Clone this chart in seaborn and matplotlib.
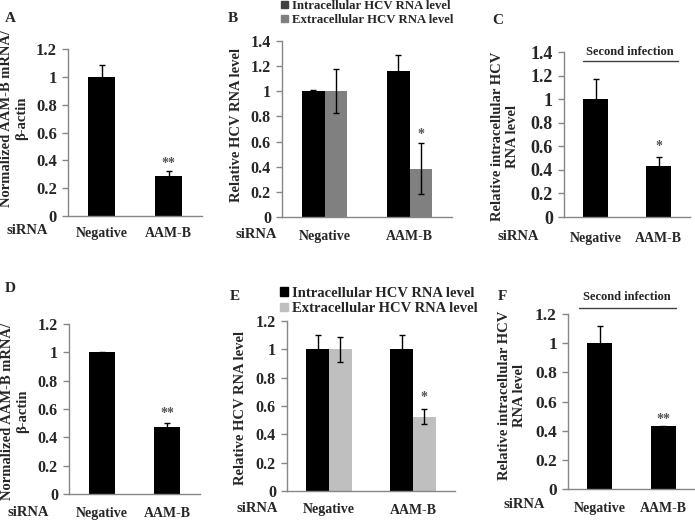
import pandas as pd
import matplotlib
matplotlib.use('Agg')
import matplotlib.pyplot as plt
import seaborn as sns
from matplotlib.patches import Patch

sns.set_theme(style='white')
plt.rcParams['font.family'] = ['Liberation Serif', 'DejaVu Serif']
plt.rcParams['font.weight'] = 'bold'

# data
cats = ['Negative', 'AAM-B']
levels = ['Intracellular HCV RNA level', 'Extracellular HCV RNA level']

a_vals = [1.0, 0.29]
a_err = [0.085, 0.03]

b_intra = [1.0, 1.165]
b_intra_err = [0.01, 0.12]
b_extra = [1.0, 0.385]
b_extra_err = [0.175, 0.2]

c_vals = [1.0, 0.43]
c_err = [0.175, 0.08]

d_vals = [1.0, 0.475]
d_err = [0.005, 0.025]

e_intra = [1.0, 1.0]
e_intra_err = [0.1, 0.1]
e_extra = [1.0, 0.525]
e_extra_err = [0.09, 0.055]

f_vals = [1.0, 0.43]
f_err = [0.12, 0.005]

W, H = 695, 520
AXC = '#868686'
STARC = '#555555'

fig = plt.figure(figsize=(W / 100, H / 100), dpi=100)


def px(x, y):
    return x / W, 1 - y / H


def make_ax(x0, x1, ytop, ybot):
    return fig.add_axes([x0 / W, 1 - ybot / H, (x1 - x0) / W, (ybot - ytop) / H])


def style_ax(ax, top, tick_fs, pad, cat_fs=10):
    ax.set_xlim(-0.5, 1.5)
    ax.set_ylim(0, top)
    ticks = [round(i * 0.2, 1) for i in range(int(round(top / 0.2)) + 1)]
    ax.set_yticks(ticks)
    ax.set_yticklabels(['%g' % t for t in ticks], fontsize=tick_fs, fontweight='bold')
    ax.set_xticks([0, 1])
    ax.set_xticklabels(cats, fontsize=cat_fs, fontweight='bold')
    for s in ['top', 'right']:
        ax.spines[s].set_visible(False)
    for s in ['left', 'bottom']:
        ax.spines[s].set_color(AXC)
        ax.spines[s].set_linewidth(1)
    ax.tick_params(axis='y', which='both', left=True, length=4, width=1, color=AXC, direction='out', pad=4)
    ax.tick_params(axis='x', bottom=False, pad=pad)
    ax.set_xlabel('')
    ax.set_ylabel('')


def add_err(ax, errs):
    for p, e in zip(ax.patches, errs):
        x = p.get_x() + p.get_width() / 2
        ax.errorbar(x, p.get_height(), yerr=e, color='black', lw=1, capsize=2.5, capthick=1)


def single(ax, vals, errs):
    sns.barplot(x=cats, y=vals, color='black', width=0.4, saturation=1, errorbar=None, linewidth=0, ax=ax)
    add_err(ax, errs)


def grouped(ax, intra, extra, errs, colors):
    df = pd.DataFrame({'siRNA': cats * 2, 'level': [levels[0]] * 2 + [levels[1]] * 2, 'value': intra + extra})
    sns.barplot(data=df, x='siRNA', y='value', hue='level', palette=colors, width=0.54,
                saturation=1, errorbar=None, linewidth=0, legend=False, ax=ax)
    add_err(ax, errs)


def ftext(x, y, s, **kw):
    fig.text(*px(x, y), s, fontweight='bold', **kw)


def legend(ax, colors, x, y, size):
    ax.legend(handles=[Patch(color=c) for c in colors], labels=levels,
              loc='upper left', bbox_to_anchor=px(x, y), bbox_transform=fig.transFigure,
              frameon=False, handlelength=0.55, handleheight=0.55, handletextpad=0.3,
              borderpad=0, borderaxespad=0, labelspacing=0.15, prop={'weight': 'bold', 'size': size})


# ---- A
axA = make_ax(68, 202, 49, 216)
single(axA, a_vals, a_err)
style_ax(axA, 1.2, 12, 2)
axA.text(1, a_vals[1] + a_err[1] + 0.06, '**', ha='center', va='center', fontsize=10, color=STARC)
ftext(14, 118, 'Normalized AAM-B mRNA/\nβ-actin', rotation=90, ha='center', va='center', fontsize=10.5, multialignment='center')
ftext(27, 231, 'siRNA', ha='center', va='center', fontsize=10.5)
ftext(5, 18, 'A', ha='left', va='center', fontsize=11)

# ---- B
axB = make_ax(282, 452, 41, 217)
grouped(axB, b_intra, b_extra, b_intra_err + b_extra_err, ['black', '#808080'])
style_ax(axB, 1.4, 11.5, 3.6)
axB.text(1.135, b_extra[1] + b_extra_err[1] + 0.07, '*', ha='center', va='center', fontsize=10, color=STARC)
ftext(237, 125, 'Relative HCV RNA level', rotation=90, ha='center', va='center', fontsize=10.5)
ftext(256, 235, 'siRNA', ha='center', va='center', fontsize=10.5)
ftext(228, 18, 'B', ha='left', va='center', fontsize=11)
legend(axB, ['#404040', '#808080'], 281, 0, 9.2)

# ---- C
axC = make_ax(564, 690, 52, 217)
single(axC, c_vals, c_err)
style_ax(axC, 1.4, 13, 5)
axC.text(1, c_vals[1] + c_err[1] + 0.09, '*', ha='center', va='center', fontsize=10, color=STARC)
ftext(505, 136, 'Relative intracellular HCV\nRNA level', rotation=90, ha='center', va='center', fontsize=10.5, multialignment='center')
ftext(518, 237, 'siRNA', ha='center', va='center', fontsize=10.5)
ftext(492, 20, 'C', ha='left', va='center', fontsize=11)
ftext(630, 52, 'Second infection', ha='center', va='center', fontsize=9)
fig.add_artist(plt.Line2D([583 / W, 678 / W], [1 - 61 / H, 1 - 61 / H], color='#404040', lw=1))

# ---- D
axD = make_ax(69, 200, 324, 494)
single(axD, d_vals, d_err)
style_ax(axD, 1.2, 11.5, 3.6)
axD.text(1, d_vals[1] + d_err[1] + 0.07, '**', ha='center', va='center', fontsize=10, color=STARC)
ftext(15, 411, 'Normalized AAM-B mRNA/\nβ-actin', rotation=90, ha='center', va='center', fontsize=10.5, multialignment='center')
ftext(28, 512, 'siRNA', ha='center', va='center', fontsize=10.5)
ftext(5, 288, 'D', ha='left', va='center', fontsize=11)

# ---- E
axE = make_ax(287, 455, 321, 491)
grouped(axE, e_intra, e_extra, e_intra_err + e_extra_err, ['black', '#bfbfbf'])
style_ax(axE, 1.2, 11.5, 3)
axE.text(1.135, e_extra[1] + e_extra_err[1] + 0.08, '*', ha='center', va='center', fontsize=10, color=STARC)
ftext(240, 408, 'Relative HCV RNA level', rotation=90, ha='center', va='center', fontsize=10.5)
ftext(257, 508, 'siRNA', ha='center', va='center', fontsize=10.5)
ftext(230, 296, 'E', ha='left', va='center', fontsize=11)
legend(axE, ['black', '#bfbfbf'], 280, 287, 10.5)

# ---- F
axF = make_ax(568, 695, 314, 489)
single(axF, f_vals, f_err)
style_ax(axF, 1.2, 12.5, 3.6)
axF.text(1, f_vals[1] + f_err[1] + 0.04, '**', ha='center', va='center', fontsize=10, color=STARC)
ftext(512, 395, 'Relative intracellular HCV\nRNA level', rotation=90, ha='center', va='center', fontsize=10.5, multialignment='center')
ftext(524, 505, 'siRNA', ha='center', va='center', fontsize=10.5)
ftext(498, 296, 'F', ha='left', va='center', fontsize=11)
ftext(627, 297, 'Second infection', ha='center', va='center', fontsize=9)
fig.add_artist(plt.Line2D([579 / W, 676 / W], [1 - 308 / H, 1 - 308 / H], color='#404040', lw=1))

fig.savefig('out.png', dpi=100)
